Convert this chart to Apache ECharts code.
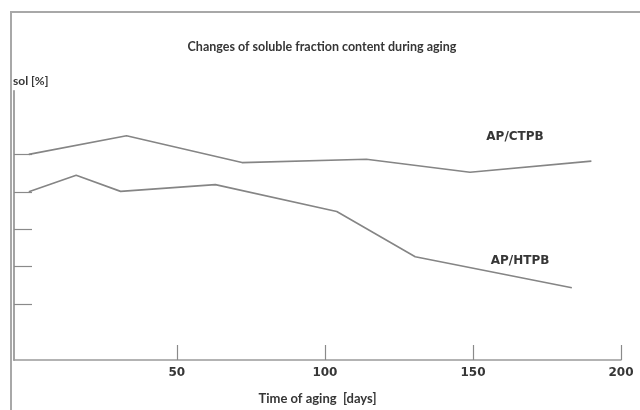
<!DOCTYPE html>
<html>
<head>
<meta charset="utf-8">
<script src="https://cdn.jsdelivr.net/npm/echarts@6/dist/echarts.min.js"></script>
<style>
html,body{margin:0;padding:0;background:#fff;}
#chart{width:640px;height:410px;}
</style>
</head>
<body>
<div id="chart"></div>
<script>
// ---- data ----
var titleText = 'Changes of soluble fraction content during aging';
var xAxisName = 'Time of aging  [days]';
var yAxisName = 'sol [%]';
var xTickValues = [50, 100, 150, 200];
var yTickValues = [20, 30, 40, 50, 60];
var ctpbDays = [0, 33, 72, 114, 149, 190];
var ctpbSol  = [60, 65, 57.8, 58.7, 55.2, 58.2];
var htpbDays = [0, 16, 31, 63, 104, 130.5, 183.4];
var htpbSol  = [50, 54.4, 50.1, 51.9, 44.7, 32.6, 24.3];
var seriesNames = ['AP/CTPB', 'AP/HTPB'];

function pairs(xs, ys) { return xs.map(function (x, i) { return [x, ys[i]]; }); }

var font = '"DejaVu Sans", sans-serif';
var titleFont = 'Lato, "Open Sans", sans-serif';
var txtColor = '#363636';
var chart = echarts.init(document.getElementById('chart'), null, {renderer: 'canvas'});
chart.setOption({
  animation: false,
  backgroundColor: '#ffffff',
  title: {
    text: titleText, left: 317, top: 35, textAlign: 'center',
    textStyle: {fontFamily: titleFont, fontSize: 12.5, fontWeight: 'bold', color: txtColor}
  },
  grid: {left: 14, right: 19, top: 90.8, bottom: 47.3},
  xAxis: {
    type: 'value', min: -5, max: 200,
    name: xAxisName, nameLocation: 'middle', nameGap: 32,
    nameTextStyle: {fontFamily: titleFont, fontSize: 13, fontWeight: 'bold', color: txtColor},
    axisLine: {onZero: false, lineStyle: {color: '#9a9a9a', width: 1.5}},
    axisTick: {show: true, inside: true, length: 15, customValues: xTickValues, lineStyle: {color: '#8a8a8a', width: 1.2}},
    axisLabel: {customValues: xTickValues, margin: 7, fontFamily: font, fontSize: 12, fontWeight: 'bold', color: txtColor},
    splitLine: {show: false}
  },
  yAxis: {
    type: 'value', min: 5, max: 77,
    name: yAxisName, nameLocation: 'end', nameGap: 4,
    nameTextStyle: {fontFamily: titleFont, fontSize: 12, fontWeight: 'bold', color: txtColor, align: 'left', padding: [0, 0, 0, -1]},
    axisLine: {onZero: false, lineStyle: {color: '#9a9a9a', width: 1.8}},
    axisTick: {show: true, inside: true, length: 18, customValues: yTickValues, lineStyle: {color: '#8a8a8a', width: 1.2}},
    axisLabel: {show: false},
    splitLine: {show: false}
  },
  series: [
    {name: seriesNames[0], type: 'line', data: pairs(ctpbDays, ctpbSol), showSymbol: false,
     lineStyle: {color: '#858585', width: 1.6}},
    {name: seriesNames[1], type: 'line', data: pairs(htpbDays, htpbSol), showSymbol: false,
     lineStyle: {color: '#858585', width: 1.6}}
  ],
  graphic: [
    {type: 'polyline', shape: {points: [[11, 410], [11, 12], [640, 12]]}, style: {stroke: '#a8a8a8', lineWidth: 2, fill: null}, silent: true},
    {type: 'text', x: 515, y: 137, style: {text: seriesNames[0], fontFamily: font, fontSize: 12, fontWeight: 'bold', fill: txtColor, align: 'center', verticalAlign: 'middle'}},
    {type: 'text', x: 520, y: 261, style: {text: seriesNames[1], fontFamily: font, fontSize: 12, fontWeight: 'bold', fill: txtColor, align: 'center', verticalAlign: 'middle'}}
  ]
});
</script>
</body>
</html>
